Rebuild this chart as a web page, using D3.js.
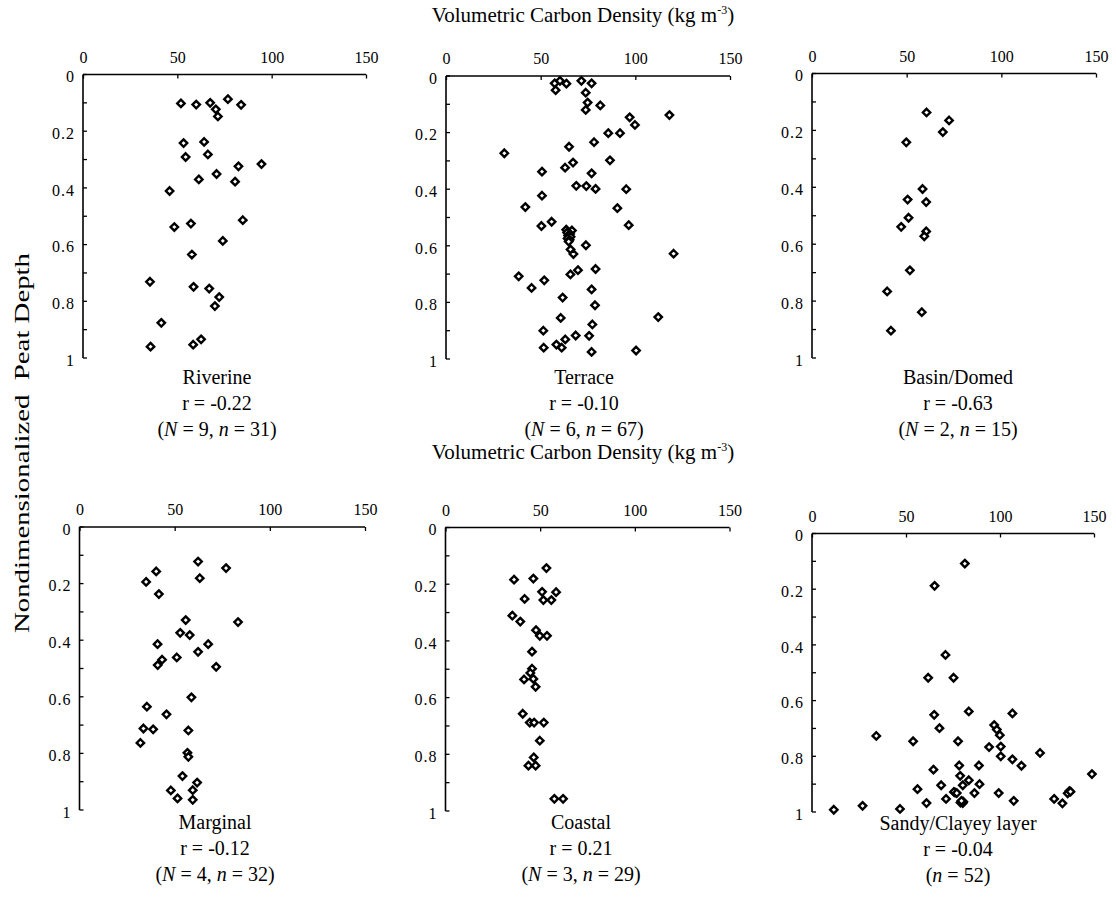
<!DOCTYPE html>
<html>
<head>
<meta charset="utf-8">
<script src="https://cdn.jsdelivr.net/npm/d3@7"></script>
<style>
  html, body { margin: 0; padding: 0; background: #fff; }
  svg { display: block; }
  text { font-family: "Liberation Serif", "Times New Roman", serif; fill: #000; }
</style>
</head>
<body>
<svg id="chart" width="1116" height="909"></svg>
<script>
// ---------- DATA ----------
const categories = ["Riverine", "Terrace", "Basin/Domed", "Marginal", "Coastal", "Sandy/Clayey layer"];
const rValues = ["-0.22", "-0.10", "-0.63", "-0.12", "0.21", "-0.04"];
const NValues = [9, 6, 2, 4, 3, null];
const nValues = [31, 67, 15, 32, 29, 52];
const xTickValues = [0, 50, 100, 150];
const yTickValues = [0, 0.2, 0.4, 0.6, 0.8, 1];
const yTickLabels = ["0", "0.2", "0.4", "0.6", "0.8", "1"];
const yMinorTicks = [0, 0.1, 0.2, 0.3, 0.4, 0.5, 0.6, 0.7, 0.8, 0.9, 1];
const xTitle = "Volumetric Carbon Density (kg m";
const yTitle = "Nondimensionalized  Peat Depth";

const riverineDensity = [51.9, 60.0, 67.4, 76.8, 83.8, 70.4, 71.5, 53.3, 64.2, 54.4, 66.2, 94.6, 82.4, 70.8, 61.4, 80.6, 45.9, 84.7, 57.2, 48.4, 74.1, 57.7, 35.5, 58.6, 66.9, 72.2, 69.9, 41.5, 62.6, 58.4, 35.8];
const riverineDepth   = [0.102, 0.106, 0.100, 0.087, 0.107, 0.123, 0.148, 0.242, 0.238, 0.291, 0.282, 0.316, 0.324, 0.351, 0.370, 0.378, 0.411, 0.514, 0.526, 0.538, 0.587, 0.635, 0.731, 0.749, 0.755, 0.785, 0.817, 0.876, 0.934, 0.953, 0.960];

const terraceDensity = [57.4, 60.2, 63.6, 57.9, 71.5, 76.9, 73.8, 74.8, 81.5, 73.8, 118.0, 97.0, 99.8, 85.7, 91.9, 78.2, 65.0, 30.8, 86.6, 67.1, 62.9, 50.7, 76.9, 68.8, 74.1, 79.0, 95.2, 50.7, 41.9, 90.5, 55.8, 50.4, 96.5,
  63.5, 66.5, 64.0, 65.5, 64.5, 65.8, 64.2, 65.3, 64.8,
  73.9, 65.8, 67.3, 120.2, 79.0, 69.7, 65.7, 38.4, 51.9, 45.2, 76.9, 61.6, 78.7, 112.1, 60.6, 77.3, 51.4, 68.5, 75.6, 63.0, 58.3, 61.1, 51.6, 76.9, 100.4];
const terraceDepth = [0.026, 0.017, 0.027, 0.050, 0.017, 0.026, 0.059, 0.094, 0.104, 0.120, 0.138, 0.146, 0.173, 0.202, 0.202, 0.234, 0.250, 0.273, 0.298, 0.306, 0.324, 0.338, 0.344, 0.388, 0.389, 0.399, 0.400, 0.423, 0.463, 0.467, 0.515, 0.530, 0.527,
  0.543, 0.546, 0.553, 0.558, 0.564, 0.568, 0.574, 0.579, 0.585,
  0.598, 0.613, 0.629, 0.628, 0.682, 0.686, 0.701, 0.708, 0.722, 0.749, 0.754, 0.783, 0.810, 0.852, 0.855, 0.878, 0.900, 0.917, 0.918, 0.931, 0.949, 0.960, 0.960, 0.975, 0.970];

const basinDensity = [60.5, 72.4, 69.1, 49.8, 58.4, 50.5, 60.3, 51.0, 47.1, 60.3, 59.3, 51.7, 39.7, 58.0, 41.7];
const basinDepth   = [0.137, 0.165, 0.206, 0.242, 0.406, 0.443, 0.452, 0.507, 0.539, 0.555, 0.572, 0.692, 0.766, 0.839, 0.904];

const marginalDensity = [62.3, 77.0, 40.3, 63.2, 35.0, 41.7, 55.8, 83.3, 52.9, 57.9, 41.0, 67.6, 62.3, 51.1, 43.4, 41.1, 71.8, 58.8, 35.4, 45.7, 33.6, 38.7, 57.2, 32.0, 56.7, 57.2, 54.1, 61.8, 48.0, 59.5, 51.5, 59.5];
const marginalDepth   = [0.122, 0.145, 0.157, 0.181, 0.194, 0.237, 0.329, 0.336, 0.374, 0.382, 0.414, 0.414, 0.441, 0.461, 0.469, 0.488, 0.494, 0.602, 0.635, 0.662, 0.712, 0.715, 0.719, 0.763, 0.798, 0.812, 0.880, 0.903, 0.931, 0.930, 0.959, 0.964];

const coastalDensity = [53.3, 36.2, 46.4, 51.0, 58.4, 51.7, 55.9, 41.8, 35.3, 39.5, 47.8, 49.8, 53.6, 45.7, 45.7, 44.8, 46.4, 41.5, 47.6, 40.8, 44.5, 46.8, 51.9, 49.8, 46.6, 43.8, 47.6, 57.5, 62.1];
const coastalDepth   = [0.143, 0.184, 0.180, 0.227, 0.228, 0.256, 0.256, 0.252, 0.311, 0.332, 0.362, 0.382, 0.382, 0.438, 0.498, 0.513, 0.534, 0.536, 0.562, 0.657, 0.688, 0.688, 0.688, 0.752, 0.811, 0.840, 0.840, 0.957, 0.957];

const sandyDensity = [81.3, 65.2, 71.0, 61.8, 75.3, 65.0, 83.4, 106.6, 34.2, 67.8, 96.9, 98.3, 99.9, 53.8, 77.7, 94.2, 100.4, 100.4, 121.3, 106.6, 111.4, 78.3, 88.8, 64.6, 78.8, 83.4, 80.2, 89.1, 148.9, 68.7, 56.1, 76.1, 86.4, 99.3, 136.9, 136.0, 71.3, 79.7, 80.2, 60.9, 107.3, 128.8, 133.2, 26.9, 11.6, 46.8, 79.0, 80.5, 75.5, 137.5, 77.0, 79.5];
const sandyDepth   = [0.108, 0.188, 0.436, 0.518, 0.518, 0.651, 0.639, 0.646, 0.727, 0.699, 0.688, 0.704, 0.724, 0.746, 0.746, 0.767, 0.765, 0.800, 0.788, 0.811, 0.834, 0.833, 0.833, 0.848, 0.870, 0.886, 0.904, 0.900, 0.864, 0.904, 0.918, 0.930, 0.932, 0.932, 0.925, 0.933, 0.953, 0.962, 0.968, 0.968, 0.960, 0.953, 0.969, 0.978, 0.992, 0.989, 0.966, 0.963, 0.928, 0.927, 0.932, 0.960];

const panelDensity = [riverineDensity, terraceDensity, basinDensity, marginalDensity, coastalDensity, sandyDensity];
const panelDepth = [riverineDepth, terraceDepth, basinDepth, marginalDepth, coastalDepth, sandyDepth];

// ---------- LAYOUT ----------
const frames = [
  { left: 83,    right: 366,   top: 74.5,  bottom: 358, cx: 217, base: 384 },
  { left: 446,   right: 730,   top: 76,    bottom: 359, cx: 584, base: 384 },
  { left: 812,   right: 1096,  top: 73.5,  bottom: 358, cx: 958, base: 384 },
  { left: 79.5,  right: 365,   top: 527,   bottom: 810, cx: 215, base: 829 },
  { left: 445.5, right: 729.5, top: 527.5, bottom: 811, cx: 581, base: 829 },
  { left: 812,   right: 1094,  top: 533.5, bottom: 812, cx: 958, base: 830 }
];
const titlePos = [{ x: 583, y: 22 }, { x: 583, y: 459 }];

const svg = d3.select("#chart");

// Titles
titlePos.forEach(p => {
  const t = svg.append("text")
    .attr("x", p.x).attr("y", p.y)
    .attr("text-anchor", "middle")
    .attr("font-size", 21);
  t.append("tspan").text(xTitle);
  t.append("tspan").attr("font-size", 12).attr("dy", -8).text("-3");
  t.append("tspan").attr("dy", 8).text(")");
});

// Y title
svg.append("text")
  .attr("transform", "translate(29,443) rotate(-90)")
  .attr("text-anchor", "middle")
  .attr("font-size", 21)
  .attr("xml:space", "preserve")
  .attr("textLength", 380)
  .attr("lengthAdjust", "spacingAndGlyphs")
  .text(yTitle);

const diamond = "M0,-3.7L3.7,0L0,3.7L-3.7,0Z";

frames.forEach((f, i) => {
  const x = d3.scaleLinear().domain([0, 150]).range([f.left, f.right]);
  const y = d3.scaleLinear().domain([0, 1]).range([f.top, f.bottom]);
  const g = svg.append("g");

  // top x axis
  const xAxis = d3.axisTop(x).tickValues(xTickValues).tickSize(-4).tickPadding(12).tickFormat(d3.format("d"));
  const gx = g.append("g").attr("transform", `translate(0,${f.top})`).call(xAxis);
  gx.attr("font-family", null);
  gx.select(".domain").attr("d", `M${f.left},0H${f.right}`).attr("stroke", "#000").attr("stroke-width", 1.6);
  gx.selectAll(".tick line").attr("stroke", "#000").attr("stroke-width", 1.3);
  gx.selectAll(".tick text").attr("font-size", 16).attr("fill", "#000");

  // left y axis (labels)
  const yAxis = d3.axisLeft(y).tickValues(yTickValues).tickSize(0).tickPadding(8)
    .tickFormat((d, k) => yTickLabels[k]);
  const gy = g.append("g").attr("transform", `translate(${f.left},0)`).call(yAxis);
  gy.attr("font-family", null);
  gy.select(".domain").attr("d", `M0,${f.top}V${f.bottom}`).attr("stroke", "#000").attr("stroke-width", 1.6);
  gy.selectAll(".tick text").attr("font-size", 16).attr("letter-spacing", 1).attr("fill", "#000").attr("dy", "0.45em");

  // minor inside ticks
  g.append("g").selectAll("line").data(yMinorTicks).join("line")
    .attr("x1", f.left).attr("x2", f.left + 4)
    .attr("y1", d => y(d)).attr("y2", d => y(d))
    .attr("stroke", "#000").attr("stroke-width", 1.3);

  // points
  const pts = panelDensity[i].map((v, k) => ({ v, d: panelDepth[i][k] }));
  g.append("g").selectAll("path").data(pts).join("path")
    .attr("d", diamond)
    .attr("transform", p => `translate(${x(p.v)},${y(p.d)})`)
    .attr("fill", "#fff")
    .attr("stroke", "#000")
    .attr("stroke-width", 2.4);

  // labels
  g.append("text").attr("x", f.cx).attr("y", f.base).attr("text-anchor", "middle").attr("font-size", 20).text(categories[i]);
  g.append("text").attr("x", f.cx).attr("y", f.base + 26).attr("text-anchor", "middle").attr("font-size", 20).text("r = " + rValues[i]);
  const t3 = g.append("text").attr("x", f.cx).attr("y", f.base + 52).attr("text-anchor", "middle").attr("font-size", 20);
  t3.append("tspan").text("(");
  if (NValues[i] !== null) {
    t3.append("tspan").attr("font-style", "italic").text("N");
    t3.append("tspan").text(" = " + NValues[i] + ", ");
  }
  t3.append("tspan").attr("font-style", "italic").text("n");
  t3.append("tspan").text(" = " + nValues[i] + ")");
});
</script>
</body>
</html>
